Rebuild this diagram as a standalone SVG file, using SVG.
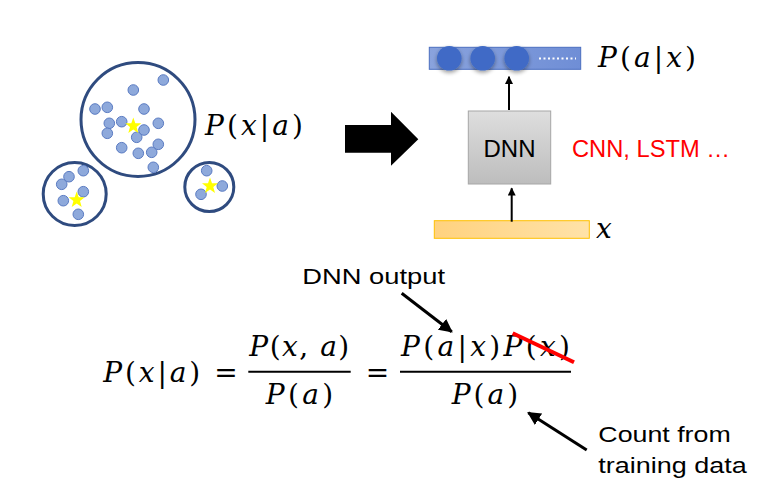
<svg xmlns="http://www.w3.org/2000/svg" width="776" height="492" viewBox="0 0 776 492">
<defs>
<style>
.clu{fill:none;stroke:#2F4B7F;stroke-width:3}
.dot{fill:#8EA9DB;stroke:#5A7BC2;stroke-width:1}
.star{fill:#FFFF00}
.m{font-family:"DejaVu Serif","Liberation Serif",serif;font-size:28px;fill:#000}
.i{font-style:italic}
.t{font-family:"Liberation Sans","Noto Sans",sans-serif;fill:#000}
.ln{stroke:#000;stroke-width:2;fill:none}
.arr{stroke:#000;stroke-width:2;fill:none;marker-end:url(#ah)}
.arr3{stroke:#000;stroke-width:3;fill:none;marker-end:url(#ah3)}
</style>
<marker id="ah" viewBox="0 0 10 10" refX="9" refY="5" markerWidth="4.2" markerHeight="4" orient="auto" markerUnits="strokeWidth">
<path d="M0,0 L10,5 L0,10 z" fill="#000"/>
</marker>
<marker id="ah3" viewBox="0 0 10 10" refX="9" refY="5" markerWidth="4.5" markerHeight="4.5" orient="auto" markerUnits="strokeWidth">
<path d="M0,0 L10,5 L0,10 z" fill="#000"/>
</marker>
<linearGradient id="gOut" x1="0" y1="0" x2="1" y2="0">
<stop offset="0" stop-color="#8AA3DD"/><stop offset="1" stop-color="#6F8ED6"/>
</linearGradient>
<linearGradient id="gIn" x1="0" y1="0" x2="1" y2="0">
<stop offset="0" stop-color="#FFD27F"/><stop offset="1" stop-color="#FFE2A8"/>
</linearGradient>
<linearGradient id="gDnn" x1="0" y1="0" x2="0" y2="1">
<stop offset="0" stop-color="#DEDEDE"/><stop offset="1" stop-color="#BDBDBD"/>
</linearGradient>
<filter id="sh" x="-50%" y="-50%" width="200%" height="200%">
<feGaussianBlur in="SourceAlpha" stdDeviation="2"/>
<feOffset dx="0" dy="2" result="b"/>
<feComponentTransfer><feFuncA type="linear" slope="0.4"/></feComponentTransfer>
<feMerge><feMergeNode/><feMergeNode in="SourceGraphic"/></feMerge>
</filter>
<polygon id="star" points="0,-8.5 2,-2.8 8,-2.7 3.3,1 5,6.9 0,3.4 -5,6.9 -3.3,1 -8,-2.7 -2,-2.8" class="star"/>
</defs>

<g id="cluster-big">
<circle class="clu" cx="138" cy="119.5" r="57"/>
<circle class="dot" cx="163.3" cy="80" r="5.3"/>
<circle class="dot" cx="133.3" cy="90" r="5.3"/>
<circle class="dot" cx="95" cy="109" r="5.3"/>
<circle class="dot" cx="107.3" cy="107.3" r="5.3"/>
<circle class="dot" cx="144" cy="109" r="5.3"/>
<circle class="dot" cx="109.3" cy="123.3" r="5.3"/>
<circle class="dot" cx="121.7" cy="121.7" r="5.3"/>
<circle class="dot" cx="158.3" cy="123.3" r="5.3"/>
<circle class="dot" cx="107.3" cy="133.3" r="5.3"/>
<circle class="dot" cx="144" cy="130" r="5.3"/>
<circle class="dot" cx="136.7" cy="137.3" r="5.3"/>
<circle class="dot" cx="121.7" cy="147.7" r="5.3"/>
<circle class="dot" cx="138.3" cy="153.3" r="5.3"/>
<circle class="dot" cx="151.7" cy="152.3" r="5.3"/>
<circle class="dot" cx="158.3" cy="144.3" r="5.3"/>
<circle class="dot" cx="153.3" cy="167.3" r="5.3"/>
<use href="#star" x="133.3" y="126"/>
</g>

<g id="cluster-left">
<circle class="clu" cx="74.7" cy="194" r="31.5"/>
<circle class="dot" cx="83.3" cy="170.7" r="5.3"/>
<circle class="dot" cx="69" cy="176.7" r="5.3"/>
<circle class="dot" cx="61.7" cy="184.3" r="5.3"/>
<circle class="dot" cx="83.3" cy="191.7" r="5.3"/>
<circle class="dot" cx="63.3" cy="200.7" r="5.3"/>
<circle class="dot" cx="78.3" cy="214.3" r="5.3"/>
<use href="#star" x="76.7" y="200"/>
</g>

<g id="cluster-right">
<circle class="clu" cx="209.3" cy="187" r="24.5"/>
<circle class="dot" cx="206.7" cy="170.7" r="5.3"/>
<circle class="dot" cx="222.3" cy="186" r="5.3"/>
<circle class="dot" cx="201" cy="194.3" r="5.3"/>
<use href="#star" x="210" y="186"/>
</g>

<g id="label-pxa">
<text class="m" x="205" y="135" textLength="98" lengthAdjust="spacing"><tspan class="i">P</tspan>(<tspan class="i">x</tspan>|<tspan class="i">a</tspan>)</text>
</g>

<g id="big-arrow">
<polygon points="345,125 391,125 391,111.7 418.3,139.3 391,165.7 391,152.7 345,152.7" fill="#000"/>
</g>

<g id="output-layer">
<rect x="429.3" y="47.3" width="151.4" height="22" fill="url(#gOut)" stroke="#4A6FC0" stroke-width="1"/>
<circle cx="449.3" cy="58.3" r="12.3" fill="#3F6BC6" filter="url(#sh)"/>
<circle cx="482.7" cy="58.3" r="12.3" fill="#3F6BC6" filter="url(#sh)"/>
<circle cx="516.7" cy="58.3" r="12.3" fill="#3F6BC6" filter="url(#sh)"/>
<line x1="539" y1="58.5" x2="576" y2="58.5" stroke="#FFFFFF" stroke-width="2" stroke-dasharray="2,2.5"/>
<text class="m" x="598" y="67" textLength="98" lengthAdjust="spacing"><tspan class="i">P</tspan>(<tspan class="i">a</tspan>|<tspan class="i">x</tspan>)</text>
</g>

<g id="dnn">
<rect x="468.3" y="111" width="82.4" height="73" fill="url(#gDnn)" stroke="#A6A6A6" stroke-width="1"/>
<text class="t" x="509.5" y="157" font-size="24" text-anchor="middle">DNN</text>
</g>

<g id="dnn-variants">
<text class="t" x="572" y="157" font-size="23" style="fill:#FF0000" textLength="158" lengthAdjust="spacingAndGlyphs">CNN, LSTM …</text>
</g>

<g id="input-layer">
<rect x="434.3" y="220.7" width="155" height="17.6" fill="url(#gIn)" stroke="#FFC000" stroke-width="1"/>
<text class="m i" x="596" y="238">x</text>
</g>

<g id="equation">
<text class="m" x="103.3" y="382" textLength="97" lengthAdjust="spacing"><tspan class="i">P</tspan>(<tspan class="i">x</tspan>|<tspan class="i">a</tspan>)</text>
<text class="m" x="226" y="382" text-anchor="middle">=</text>
<line class="ln" x1="248.3" y1="371.7" x2="350.7" y2="371.7"/>
<text class="m" x="249.3" y="356" textLength="100" lengthAdjust="spacing"><tspan class="i">P</tspan>(<tspan class="i">x</tspan>, <tspan class="i">a</tspan>)</text>
<text class="m" x="265.7" y="404" textLength="67.6" lengthAdjust="spacing"><tspan class="i">P</tspan>(<tspan class="i">a</tspan>)</text>
<text class="m" x="377.5" y="382" text-anchor="middle">=</text>
<line class="ln" x1="400" y1="371.7" x2="571" y2="371.7"/>
<text class="m" x="401" y="356" textLength="169" lengthAdjust="spacing"><tspan class="i">P</tspan>(<tspan class="i">a</tspan>|<tspan class="i">x</tspan>)<tspan class="i">P</tspan>(<tspan class="i">x</tspan>)</text>
<text class="m" x="451.7" y="404" textLength="66.6" lengthAdjust="spacing"><tspan class="i">P</tspan>(<tspan class="i">a</tspan>)</text>
<line x1="512.7" y1="333.3" x2="574" y2="362.3" stroke="#FF0000" stroke-width="4"/>
</g>

<g id="label-dnn-output">
<text class="t" x="302.3" y="284.3" font-size="22" textLength="142.7" lengthAdjust="spacingAndGlyphs">DNN output</text>
</g>

<g id="label-count">
<text class="t" x="598.3" y="442.3" font-size="22" textLength="132.4" lengthAdjust="spacingAndGlyphs">Count from</text>
<text class="t" x="598.3" y="473.3" font-size="22" textLength="148.4" lengthAdjust="spacingAndGlyphs">training data</text>
</g>

<g id="connectors">
<line class="arr" x1="509" y1="110" x2="509" y2="76.7"/>
<line class="arr" x1="511.7" y1="221.7" x2="511.7" y2="188.3"/>
<line class="arr3" x1="401.7" y1="293.3" x2="451.7" y2="331.7"/>
<line class="arr3" x1="586.7" y1="450" x2="528.3" y2="412.7"/>
</g>
</svg>
